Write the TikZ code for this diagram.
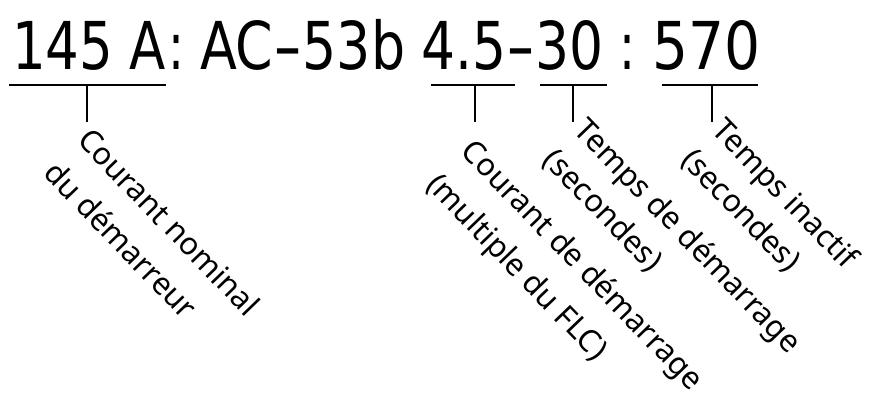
\documentclass[tikz,border=0pt]{standalone}
\usepackage{fontspec}
\setmainfont{Noto Sans}
\newfontfamily\hfont{DejaVu Sans Condensed}
\newlength\hdrw
\newcommand\hdrfont{\hfont\fontsize{66}{76}\selectfont}
\newcommand\hdrtxt[2]{\settowidth\hdrw{\hdrfont #2}\pgfmathsetmacro\hdrsx{#1/\hdrw}\scalebox{\hdrsx}[1]{\hdrfont #2}}
\newcommand\hdash{\scalebox{1.5}[1]{-}}
\tikzset{
  hdr/.style={inner sep=0pt, anchor=base west},
  uline/.style={line width=2.7pt},
  lbl/.style={inner sep=0pt, anchor=north west, rotate=-46, align=left},
  lsp/.style={font=\fontsize{31}{#1}\selectfont}
}
\begin{document}
\begin{tikzpicture}[x=1pt,y=-1pt]
\useasboundingbox (0,0) rectangle (869,394);
% header
\node[hdr] (h1) at (12,69) {\hdrtxt{154}{145 A}};
\node[inner sep=0pt, anchor=base] (c1) at (177,69) {\scalebox{0.8}[1]{\hdrfont :}};
\node[hdr] (h2) at (200,69) {\hdrtxt{205}{AC\hdash 53b}};
\node[hdr] (h3) at (421,69) {\hdrtxt{182}{4.5\hdash 30}};
\node[inner sep=0pt, anchor=base] (c2) at (627,69) {\scalebox{0.8}[1]{\hdrfont :}};
\node[hdr] (h4) at (652,69) {\hdrtxt{108}{570}};
% underlines
\coordinate (u1a) at (9,85);   \coordinate (u1b) at (166,85);
\coordinate (u2a) at (431,85); \coordinate (u2b) at (515,85);
\coordinate (u3a) at (540,85); \coordinate (u3b) at (607,85);
\coordinate (u4a) at (662,85); \coordinate (u4b) at (758,85);
\coordinate (t1a) at (87,85);  \coordinate (t1b) at (87,122);
\coordinate (t2a) at (475,85); \coordinate (t2b) at (475,122);
\coordinate (t3a) at (573,85); \coordinate (t3b) at (573,122);
\coordinate (t4a) at (712,85); \coordinate (t4b) at (712,122);
\draw[uline] (u1a) -- (u1b);
\draw[uline] (u2a) -- (u2b);
\draw[uline] (u3a) -- (u3b);
\draw[uline] (u4a) -- (u4b);
\draw[uline] (t1a) -- (t1b);
\draw[uline] (t2a) -- (t2b);
\draw[uline] (t3a) -- (t3b);
\draw[uline] (t4a) -- (t4b);
% labels
\node[lbl, lsp=47] (l1) at (93,125) {Courant nominal\\du démarreur};
\node[lbl, lsp=48] (l2) at (477,136) {Courant de démarrage\\(multiple du FLC)};
\node[lbl, lsp=43] (l3) at (590,115) {Temps de démarrage\\(secondes)};
\node[lbl, lsp=43] (l4) at (728,115) {Temps inactif\\(secondes)};
\end{tikzpicture}
\end{document}
